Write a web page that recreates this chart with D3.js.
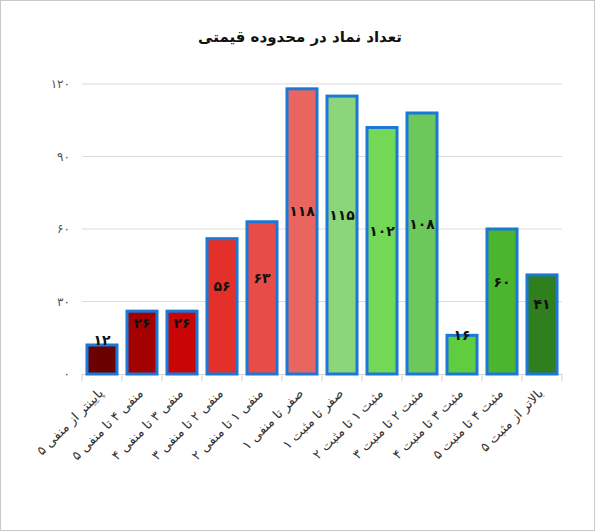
<!DOCTYPE html>
<html><head><meta charset="utf-8">
<script src="https://cdn.jsdelivr.net/npm/d3@7"></script>
<style>body{margin:0;background:#fff}svg{display:block}</style>
</head><body><svg id="c" width="595" height="531"></svg>
<script>
const categories = ["پایینتر از منفی ۵","منفی ۴ تا منفی ۵","منفی ۳ تا منفی ۴","منفی ۲ تا منفی ۳","منفی ۱ تا منفی ۲","صفر تا منفی ۱","صفر تا مثبت ۱","مثبت ۱ تا مثبت ۲","مثبت ۲ تا مثبت ۳","مثبت ۳ تا مثبت ۴","مثبت ۴ تا مثبت ۵","بالاتر از مثبت ۵"];
const values = [12,26,26,56,63,118,115,102,108,16,60,41];
const colors = ["#6a0000","#a30000","#c90606","#e3302a","#e84c46","#e8665f","#8bd57a","#72d856","#6cc85a","#5fcd3d","#4bb52e","#2f7f1f"];
const yTicks = [0,30,60,90,120];
const yTickLabels = ["۰","۳۰","۶۰","۹۰","۱۲۰"];
const title = "تعداد نماد در محدوده قیمتی";

const fa = n => String(n).replace(/\d/g, d => "۰۱۲۳۴۵۶۷۸۹"[d]);
const svg = d3.select("#c");
const font = "DejaVu Sans";
svg.append("rect").attr("x",0.5).attr("y",0.5).attr("width",594).attr("height",530).attr("fill","#fff").attr("stroke","#c8c8c8");

const x = d3.scaleBand().domain(categories).range([82,562]).paddingInner(0.25).paddingOuter(0.125);
const y = d3.scaleLinear().domain([0,120]).range([374,84]);

svg.append("text").attr("x",300).attr("y",42).attr("text-anchor","middle")
  .attr("font-family",font).attr("font-weight","bold").attr("font-size",15).attr("fill","#111").text(title);

// grid
svg.append("g").selectAll("line").data(yTicks.slice(1)).join("line")
  .attr("x1",82).attr("x2",562).attr("y1",d=>y(d)).attr("y2",d=>y(d))
  .attr("stroke","#dcdcdc").attr("stroke-width",1.2);
svg.append("g").selectAll("text").data(yTicks).join("text")
  .attr("x",70).attr("y",d=>y(d)+4).attr("text-anchor","end")
  .attr("font-family",font).attr("font-size",12).attr("fill","#555")
  .text((d,i)=>yTickLabels[i]);

// x axis
const xb = svg.append("g");
xb.append("line").attr("x1",82).attr("x2",562).attr("y1",374.5).attr("y2",374.5).attr("stroke","#d0d0d0");
const bounds = [...categories.map(c=>x(c)-x.step()*x.paddingInner()/2), 562];
xb.selectAll("line.t").data(bounds).join("line").attr("class","t")
  .attr("x1",d=>d).attr("x2",d=>d).attr("y1",374).attr("y2",381).attr("stroke","#d0d0d0");

// bars
svg.append("g").selectAll("rect").data(values).join("rect")
  .attr("x",(d,i)=>x(categories[i])).attr("width",x.bandwidth())
  .attr("y",d=>y(d)).attr("height",d=>y(0)-y(d))
  .attr("fill",(d,i)=>colors[i]).attr("stroke","#1b78d8").attr("stroke-width",3);

// value labels
svg.append("g").selectAll("text").data(values).join("text")
  .attr("x",(d,i)=>x(categories[i])+x.bandwidth()/2)
  .attr("y",d=>y(d/2)-15).attr("text-anchor","middle")
  .attr("font-family",font).attr("font-weight","bold").attr("font-size",14)
  .attr("letter-spacing",-1.5).attr("fill","#111")
  .text(d=>fa(d));

// category labels
svg.append("g").selectAll("text").data(categories).join("text")
  .attr("transform",c=>`translate(${x(c)+x.bandwidth()/2+2},${394}) rotate(-45)`)
  .attr("text-anchor","end")
  .attr("font-family",font).attr("font-size",13).attr("fill","#333")
  .text(c=>c);
</script></body></html>
